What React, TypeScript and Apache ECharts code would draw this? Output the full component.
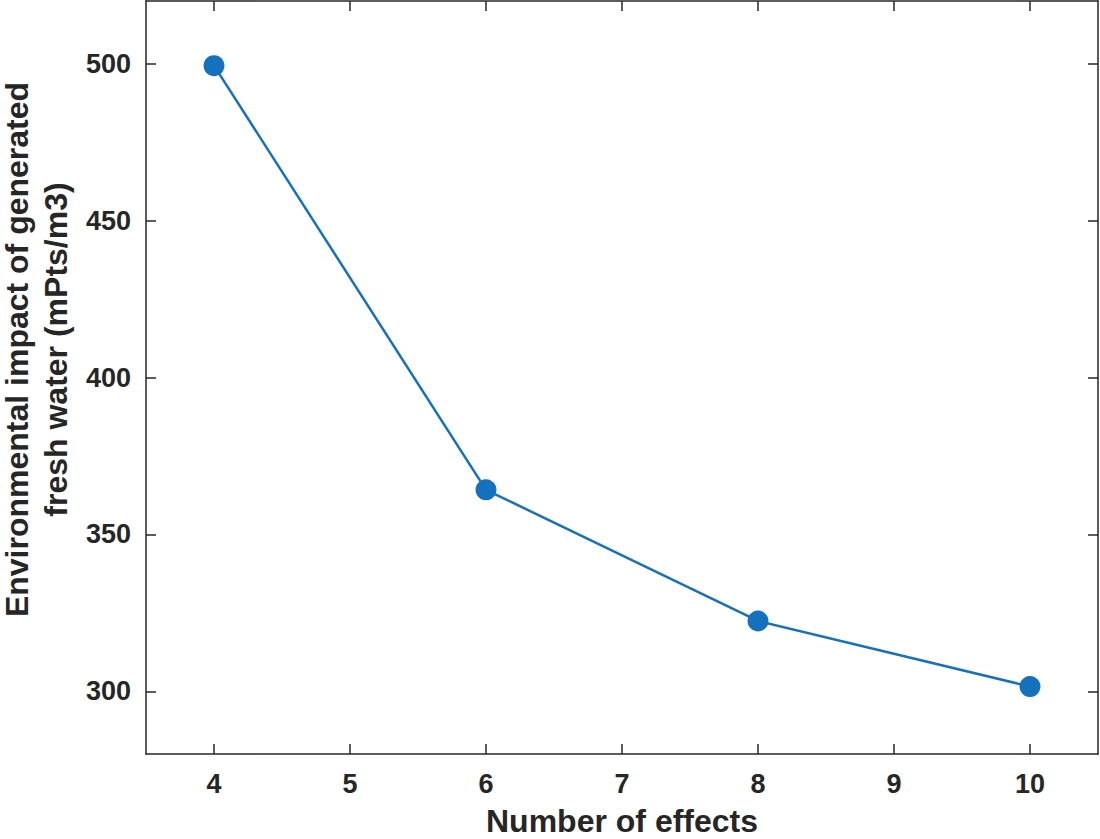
import React, { useEffect, useRef } from "react";
import * as echarts from "echarts";

const effects = [4, 6, 8, 10];
const impact = [499.4, 364.2, 322.4, 301.5];
const xTicks = [4, 5, 6, 7, 8, 9, 10];
const yTicks = [300, 350, 400, 450, 500];
const xTitle = "Number of effects";
const yTitle = "Environmental impact of generated\nfresh water (mPts/m3)";

export default function App() {
  const ref = useRef<HTMLDivElement>(null);
  useEffect(() => {
    const chart = echarts.init(ref.current!, null, { renderer: "svg" });
    const ink = "#262626";
    const font = "'Liberation Sans', Arial, sans-serif";
    const baseX = {
      type: "value",
      min: 3.5,
      max: 10.5,
      axisLine: { show: true, lineStyle: { color: ink, width: 1.5 } },
      axisTick: { show: true, inside: true, length: 10, customValues: xTicks, lineStyle: { color: ink, width: 1.5 } },
      splitLine: { show: false },
    };
    const baseY = {
      type: "value",
      min: 280,
      max: 520,
      axisLine: { show: true, lineStyle: { color: ink, width: 1.5 } },
      axisTick: { show: true, inside: true, length: 10, customValues: yTicks, lineStyle: { color: ink, width: 1.5 } },
      splitLine: { show: false },
    };
    chart.setOption({
      animation: false,
      backgroundColor: "#ffffff",
      grid: { left: 146, right: 2, top: 1, bottom: 85, containLabel: false, outerBoundsMode: "none" },
      xAxis: [
        {
          ...baseX,
          position: "bottom",
          name: xTitle,
          nameLocation: "middle",
          nameGap: 51,
          nameTextStyle: { color: ink, fontFamily: font, fontWeight: "bold", fontSize: 32 },
          axisLabel: { show: true, customValues: xTicks, color: ink, fontFamily: font, fontWeight: "bold", fontSize: 27, margin: 16 },
        },
        { ...baseX, position: "top", axisLabel: { show: false } },
      ],
      yAxis: [
        {
          ...baseY,
          position: "left",
          name: yTitle,
          nameLocation: "middle",
          nameGap: 69,
          nameTextStyle: {
            color: ink,
            fontFamily: font,
            fontWeight: "bold",
            fontSize: 32,
            lineHeight: 39,
            align: "center",
            padding: [0, 0, 0, 56],
          },
          axisLabel: { show: true, customValues: yTicks, color: ink, fontFamily: font, fontWeight: "bold", fontSize: 27, margin: 15 },
        },
        { ...baseY, position: "right", axisLabel: { show: false } },
      ],
      series: [
        {
          type: "line",
          data: effects.map((e, i) => [e, impact[i]]),
          symbol: "circle",
          symbolSize: 21,
          lineStyle: { color: "#1571bd", width: 2.5 },
          itemStyle: { color: "#1571bd" },
        },
      ],
    });
    return () => chart.dispose();
  }, []);
  return <div ref={ref} style={{ width: 1100, height: 839, position: "absolute", left: 0, top: 0 }} />;
}
